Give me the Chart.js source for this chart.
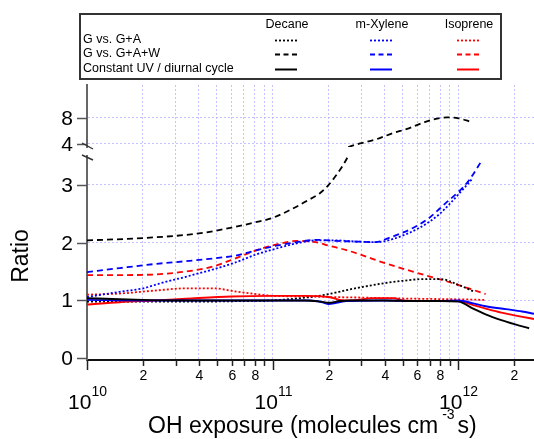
<!DOCTYPE html>
<html>
<head>
<meta charset="utf-8">
<script src="https://cdn.jsdelivr.net/npm/chart.js@4.4.1/dist/chart.umd.min.js"></script>
<style>
  html, body { margin: 0; padding: 0; background: #fff; }
  canvas { display: block; }
</style>
</head>
<body>
<canvas id="ratioChart" width="534" height="439"></canvas>
<script>
// ---- data: ratio vs OH exposure (molecules cm-3 s) ----
const decaneGA_x = [1e10, 2e10, 4e10, 7e10, 1e11, 1.3e11, 1.6e11, 2e11, 2.5e11, 3e11, 4e11, 5e11, 6.5e11, 8e11, 1e12, 1.2e12];
const decaneGA_y = [0.98, 0.98, 0.98, 0.99, 1.0, 1.03, 1.06, 1.11, 1.18, 1.23, 1.30, 1.34, 1.37, 1.37, 1.27, 1.16];

// the G+A+W decane curve runs past the axis break, so it is split in two
const decaneGAW_lowX = [1e10, 2e10, 4e10, 6e10, 8e10, 1e11, 1.3e11, 1.5e11, 1.8e11, 2e11, 2.2e11, 2.4e11, 2.55e11];
const decaneGAW_lowY = [2.04, 2.08, 2.16, 2.26, 2.35, 2.43, 2.6, 2.71, 2.86, 3.0, 3.17, 3.35, 3.5];
const decaneGAW_highX = [2.55e11, 2.75e11, 2.95e11, 3.6e11, 4.4e11, 5.4e11, 6.4e11, 7.2e11, 8.7e11, 1e12, 1.16e12];
const decaneGAW_highY = [3.5, 3.8, 4.05, 4.68, 5.6, 6.38, 7.2, 7.7, 8.05, 7.92, 7.4];

const decaneUV_x = [1e10, 1.5e10, 2e10, 3e10, 5e10, 1e11, 1.5e11, 1.8e11, 2e11, 2.3e11, 2.6e11, 4e11, 6e11, 8e11, 1e12, 1.2e12, 1.4e12, 1.7e12, 2e12, 2.4e12];
const decaneUV_y = [1.04, 1.02, 1.01, 1.0, 1.0, 1.0, 1.0, 0.98, 0.96, 0.99, 1.0, 1.0, 0.99, 0.99, 0.98, 0.86, 0.76, 0.66, 0.59, 0.52];

const xyleneGA_x = [1e10, 1.5e10, 2e10, 2.5e10, 3.4e10, 4.8e10, 6.2e10, 8.2e10, 1.05e11, 1.35e11, 1.7e11, 2.2e11, 2.8e11, 3.6e11, 4.4e11, 6.1e11, 7.8e11, 9.2e11, 1.09e12, 1.19e12];
const xyleneGA_y = [1.06, 1.15, 1.21, 1.30, 1.41, 1.54, 1.65, 1.80, 1.90, 1.99, 2.04, 2.04, 2.02, 2.01, 2.06, 2.25, 2.48, 2.71, 2.97, 3.11];

const xyleneGAW_x = [1e10, 1.5e10, 2.3e10, 3.4e10, 5.2e10, 6.4e10, 8.2e10, 1.05e11, 1.35e11, 1.7e11, 2.2e11, 2.8e11, 3.6e11, 4.2e11, 5.65e11, 6.9e11, 8.5e11, 1e12, 1.14e12, 1.34e12];
const xyleneGAW_y = [1.49, 1.56, 1.63, 1.68, 1.74, 1.78, 1.87, 1.95, 2.01, 2.05, 2.03, 2.02, 2.01, 2.08, 2.25, 2.42, 2.68, 2.88, 3.08, 3.43];

const xyleneUV_x = [1e10, 2e10, 5e10, 1e11, 1.6e11, 1.85e11, 2e11, 2.2e11, 2.5e11, 4e11, 6e11, 8e11, 1e12, 1.2e12, 1.4e12, 1.8e12, 2.2e12, 2.55e12];
const xyleneUV_y = [1.01, 1.0, 1.0, 1.0, 1.0, 0.97, 0.94, 0.96, 0.99, 1.0, 0.99, 0.99, 1.0, 0.95, 0.90, 0.85, 0.81, 0.77];

const isopreneGA_x = [1e10, 1.5e10, 2.3e10, 3.4e10, 4.8e10, 6.2e10, 8.2e10, 1e11, 1.5e11, 2e11, 3e11, 4e11, 6e11, 1e12, 1.4e12];
const isopreneGA_y = [1.10, 1.12, 1.17, 1.21, 1.21, 1.16, 1.11, 1.08, 1.07, 1.06, 1.05, 1.04, 1.03, 1.02, 1.01];

const isopreneGAW_x = [1e10, 1.5e10, 2.3e10, 3.4e10, 4.8e10, 6.2e10, 8.2e10, 1.05e11, 1.35e11, 1.7e11, 2e11, 2.5e11, 3.05e11, 3.9e11, 6.1e11, 9.3e11, 1.4e12];
const isopreneGAW_y = [1.44, 1.44, 1.45, 1.50, 1.59, 1.72, 1.87, 1.97, 2.03, 2.01, 1.95, 1.87, 1.78, 1.66, 1.47, 1.30, 1.11];

const isopreneUV_x = [1e10, 1.5e10, 2.3e10, 3.4e10, 6e10, 1e11, 1.5e11, 2e11, 2.3e11, 2.6e11, 3.5e11, 4.5e11, 5e11, 7e11, 1e12, 1.2e12, 1.4e12, 1.7e12, 2.1e12, 2.55e12];
const isopreneUV_y = [0.93, 0.97, 1.0, 1.03, 1.07, 1.08, 1.08, 1.06, 1.01, 1.0, 1.04, 1.04, 1.0, 0.99, 0.99, 0.92, 0.86, 0.79, 0.73, 0.68];

// ---- axes / labels ----
const compounds = ['Decane', 'm-Xylene', 'Isoprene'];
const comparisons = ['G vs. G+A', 'G vs. G+A+W', 'Constant UV / diurnal cycle'];
const yTicksLower = [0, 1, 2, 3];
const yTicksUpper = [4, 8];
const xLabelMantissas = [2, 4, 6, 8];
const xDecades = [1e10, 1e11, 1e12];
const xMin = 1e10, xMax = 2.55e12;

const FONT = '"Liberation Sans", Arial, Helvetica, sans-serif';
const BLACK = '#000000', BLUE = '#0000ff', RED = '#ff0000';
const DOT = [2, 2], DASH = [6, 4], SOLID = [];

// every log tick (1..9 per decade) inside the axis range
const xTickValues = [];
xDecades.forEach(d => {
  for (let m = 1; m <= 9; m++) {
    if (d * m <= xMax) xTickValues.push(d * m);
  }
});

function series(xs, ys, color, dash, axis) {
  return {
    data: xs.map((x, i) => ({ x: x, y: ys[i] })),
    borderColor: color,
    borderWidth: dash.length ? 1.8 : 1.9,
    borderDash: dash,
    pointRadius: 0,
    cubicInterpolationMode: 'monotone',
    fill: false,
    yAxisID: axis || 'y'
  };
}

const datasets = [
  series(decaneUV_x, decaneUV_y, BLACK, SOLID),
  series(xyleneUV_x, xyleneUV_y, BLUE, SOLID),
  series(isopreneUV_x, isopreneUV_y, RED, SOLID),
  series(decaneGA_x, decaneGA_y, BLACK, DOT),
  series(xyleneGA_x, xyleneGA_y, BLUE, DOT),
  series(isopreneGA_x, isopreneGA_y, RED, DOT),
  series(decaneGAW_lowX, decaneGAW_lowY, BLACK, DASH),
  series(decaneGAW_highX, decaneGAW_highY, BLACK, DASH, 'y2'),
  series(xyleneGAW_x, xyleneGAW_y, BLUE, DASH),
  series(isopreneGAW_x, isopreneGAW_y, RED, DASH)
];

const gridColor = 'rgba(175, 175, 255, 0.75)';

// tick marks, tick labels, titles, the axis break and the legend table
const axisDecor = {
  id: 'axisDecor',
  afterDraw(chart) {
    const ctx = chart.ctx;
    const xs = chart.scales.x, yLo = chart.scales.y, yHi = chart.scales.y2;
    const base = xs.top;
    const axisX = yLo.right;
    ctx.save();
    ctx.fillStyle = '#000';
    ctx.textBaseline = 'middle';

    // x axis ticks + labels
    ctx.strokeStyle = '#222';
    ctx.lineWidth = 1.5;
    xTickValues.forEach(v => {
      const px = Math.round(xs.getPixelForValue(v)) + 0.5;
      const exp = Math.floor(Math.log10(v) + 1e-9);
      const m = Math.round(v / Math.pow(10, exp));
      const major = m === 1;
      ctx.beginPath();
      ctx.moveTo(px, base);
      ctx.lineTo(px, base + (major ? 10 : 6));
      ctx.stroke();
      if (major) {
        ctx.font = '21px ' + FONT;
        const w1 = ctx.measureText('10').width;
        ctx.font = '14px ' + FONT;
        const w2 = ctx.measureText(String(exp)).width;
        const left = px - (w1 + w2) / 2;
        ctx.textAlign = 'left';
        ctx.font = '21px ' + FONT;
        ctx.fillText('10', left, base + 43);
        ctx.font = '14px ' + FONT;
        ctx.fillText(String(exp), left + w1, base + 32);
      } else if (xLabelMantissas.includes(m)) {
        ctx.font = '14px ' + FONT;
        ctx.textAlign = 'center';
        ctx.fillText(String(m), px, base + 16);
      }
    });

    // y axis ticks + labels on both segments
    ctx.strokeStyle = '#555';
    ctx.font = '21px ' + FONT;
    ctx.textAlign = 'right';
    [[yLo, yTicksLower], [yHi, yTicksUpper]].forEach(([sc, vals]) => {
      vals.forEach(v => {
        const py = Math.round(sc.getPixelForValue(v)) + 0.5;
        ctx.beginPath();
        ctx.moveTo(axisX - 10, py);
        ctx.lineTo(axisX, py);
        ctx.stroke();
        ctx.fillText(String(v), axisX - 14, py + 1);
      });
    });

    // axis break marks
    ctx.strokeStyle = '#333';
    ctx.lineWidth = 1.4;
    const hb = yHi.bottom, lt = yLo.top;
    ctx.beginPath();
    ctx.moveTo(axisX - 5, hb - 4); ctx.lineTo(axisX + 6, hb + 2);
    ctx.moveTo(axisX - 5, lt - 1); ctx.lineTo(axisX + 6, lt + 4);
    ctx.stroke();

    // y title
    ctx.save();
    ctx.translate(22, 256);
    ctx.rotate(-Math.PI / 2);
    ctx.textAlign = 'center';
    ctx.font = '23px ' + FONT;
    ctx.fillText('Ratio', 0, 0);
    ctx.restore();

    // x title with superscript
    ctx.textAlign = 'left';
    ctx.font = '23px ' + FONT;
    const main = 'OH exposure (molecules cm';
    const tx = 148, ty = 427;
    ctx.fillText(main, tx, ty);
    let cx = tx + ctx.measureText(main).width + 4;
    ctx.font = '14px ' + FONT;
    ctx.fillText('-3', cx, ty - 12);
    cx += ctx.measureText('-3').width + 3;
    ctx.font = '23px ' + FONT;
    ctx.fillText('s)', cx, ty);

    // legend table
    ctx.strokeStyle = '#333';
    ctx.lineWidth = 2;
    ctx.strokeRect(80, 14, 421, 65);
    ctx.font = '12.5px ' + FONT;
    const colX = [286, 381, 468];
    const rowY = [40, 54, 69];
    const colors = [BLACK, BLUE, RED];
    const dashes = [DOT, [5, 3.5], SOLID];
    ctx.textAlign = 'center';
    compounds.forEach((c, i) => ctx.fillText(c, colX[i] + 1, 25));
    ctx.textAlign = 'left';
    comparisons.forEach((r, j) => {
      ctx.fillText(r, 83, rowY[j]);
      compounds.forEach((c, i) => {
        ctx.strokeStyle = colors[i];
        ctx.lineWidth = j === 2 ? 2 : 1.8;
        ctx.setLineDash(dashes[j]);
        ctx.beginPath();
        ctx.moveTo(colX[i] - 11, rowY[j] + 0.5);
        ctx.lineTo(colX[i] + 11, rowY[j] + 0.5);
        ctx.stroke();
      });
    });
    ctx.setLineDash([]);
    ctx.restore();
  }
};

const hideFirst = c => (c.tick && c.tick.value === xMin) ? 'rgba(0,0,0,0)' : gridColor;
const hideZero = c => (c.tick && c.tick.value === 0) ? 'rgba(0,0,0,0)' : gridColor;

new Chart(document.getElementById('ratioChart'), {
  type: 'line',
  data: { datasets: datasets },
  options: {
    responsive: false,
    animation: false,
    devicePixelRatio: 1,
    layout: { padding: { top: 85, left: 87, right: 0, bottom: 79 } },
    plugins: { legend: { display: false }, tooltip: { enabled: false } },
    scales: {
      x: {
        type: 'logarithmic',
        min: xMin,
        max: xMax,
        afterBuildTicks: s => { s.ticks = xTickValues.map(v => ({ value: v })); },
        ticks: { display: false },
        grid: { color: hideFirst, lineWidth: 1, drawTicks: false },
        border: { color: '#111', width: 2, dash: [2, 2] }
      },
      y: {
        type: 'linear',
        position: 'left',
        stack: 'ratio',
        stackWeight: 204,
        min: -0.03,
        max: 3.5,
        afterBuildTicks: s => { s.ticks = yTicksLower.map(v => ({ value: v })); },
        ticks: { display: false },
        grid: { color: hideZero, lineWidth: 1, drawTicks: false },
        border: { color: '#666', width: 2, dash: [2, 2] }
      },
      gap: {
        type: 'linear',
        position: 'left',
        stack: 'ratio',
        stackWeight: 9,
        min: 0,
        max: 1,
        ticks: { display: false },
        grid: { display: false, drawTicks: false },
        border: { display: false }
      },
      y2: {
        type: 'linear',
        position: 'left',
        stack: 'ratio',
        stackWeight: 62,
        min: 3.5,
        max: 13.04,
        afterBuildTicks: s => { s.ticks = yTicksUpper.map(v => ({ value: v })); },
        ticks: { display: false },
        grid: { color: gridColor, lineWidth: 1, drawTicks: false },
        border: { color: '#666', width: 2, dash: [2, 2] }
      }
    }
  },
  plugins: [axisDecor]
});
</script>
</body>
</html>
